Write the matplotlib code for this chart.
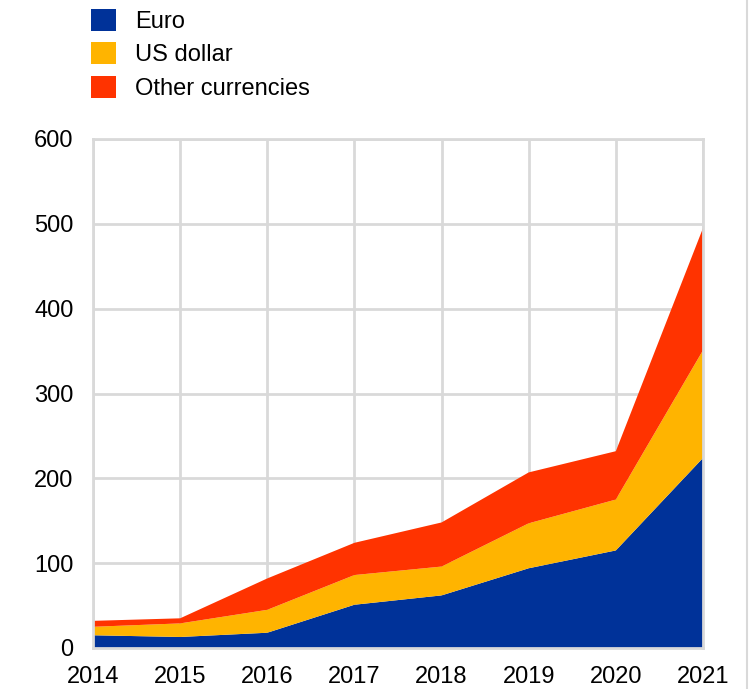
import matplotlib
matplotlib.use('Agg')
import matplotlib.pyplot as plt
from matplotlib.lines import Line2D
from matplotlib.patches import Patch

# Issuance by currency, EUR billions
years = [2014, 2015, 2016, 2017, 2018, 2019, 2020, 2021]
euro = [15, 13, 18, 51, 62, 94, 115, 224]
us_dollar = [10, 16, 27, 35, 34, 53, 60, 127]
other = [7, 6, 37, 38, 52, 60, 57, 144]

labels = ['Euro', 'US dollar', 'Other currencies']
colors = ['#003299', '#FFB400', '#FF3300']

plt.rcParams['font.family'] = ['Liberation Sans', 'DejaVu Sans']
fs = 17

fig = plt.figure(figsize=(7.49, 6.89), dpi=100)
ax = fig.add_axes([93/749, 1 - 648/689, (703 - 93)/749, (648 - 139)/689])

ax.stackplot(years, euro, us_dollar, other, colors=colors, linewidth=0, zorder=2)

ax.set_xlim(2014, 2021)
ax.set_ylim(0, 600)
ax.set_xticks(years)
ax.set_yticks(range(0, 601, 100))
ax.grid(True, color='#d9d9d9', linewidth=2, zorder=0)
for s in ax.spines.values():
    s.set_color('#d9d9d9')
    s.set_linewidth(2)
ax.tick_params(length=0, labelsize=fs)
ax.tick_params(axis='y', pad=14)
ax.tick_params(axis='x', pad=13)

handles = [Patch(facecolor=c, edgecolor='none') for c in colors]
fig.legend(handles, labels, loc='upper left', bbox_to_anchor=(91/749, 1 - 9/689),
           frameon=False, fontsize=fs, borderpad=0, borderaxespad=0,
           handlelength=1.05, handleheight=1.05, labelspacing=0.4,
           handletextpad=0.8)

# thin frame line on the right edge
fig.add_artist(Line2D([747/749, 747/749], [0, 1], color='#d9d9d9', linewidth=1.5,
                      transform=fig.transFigure))

fig.savefig('out.png', dpi=100)
